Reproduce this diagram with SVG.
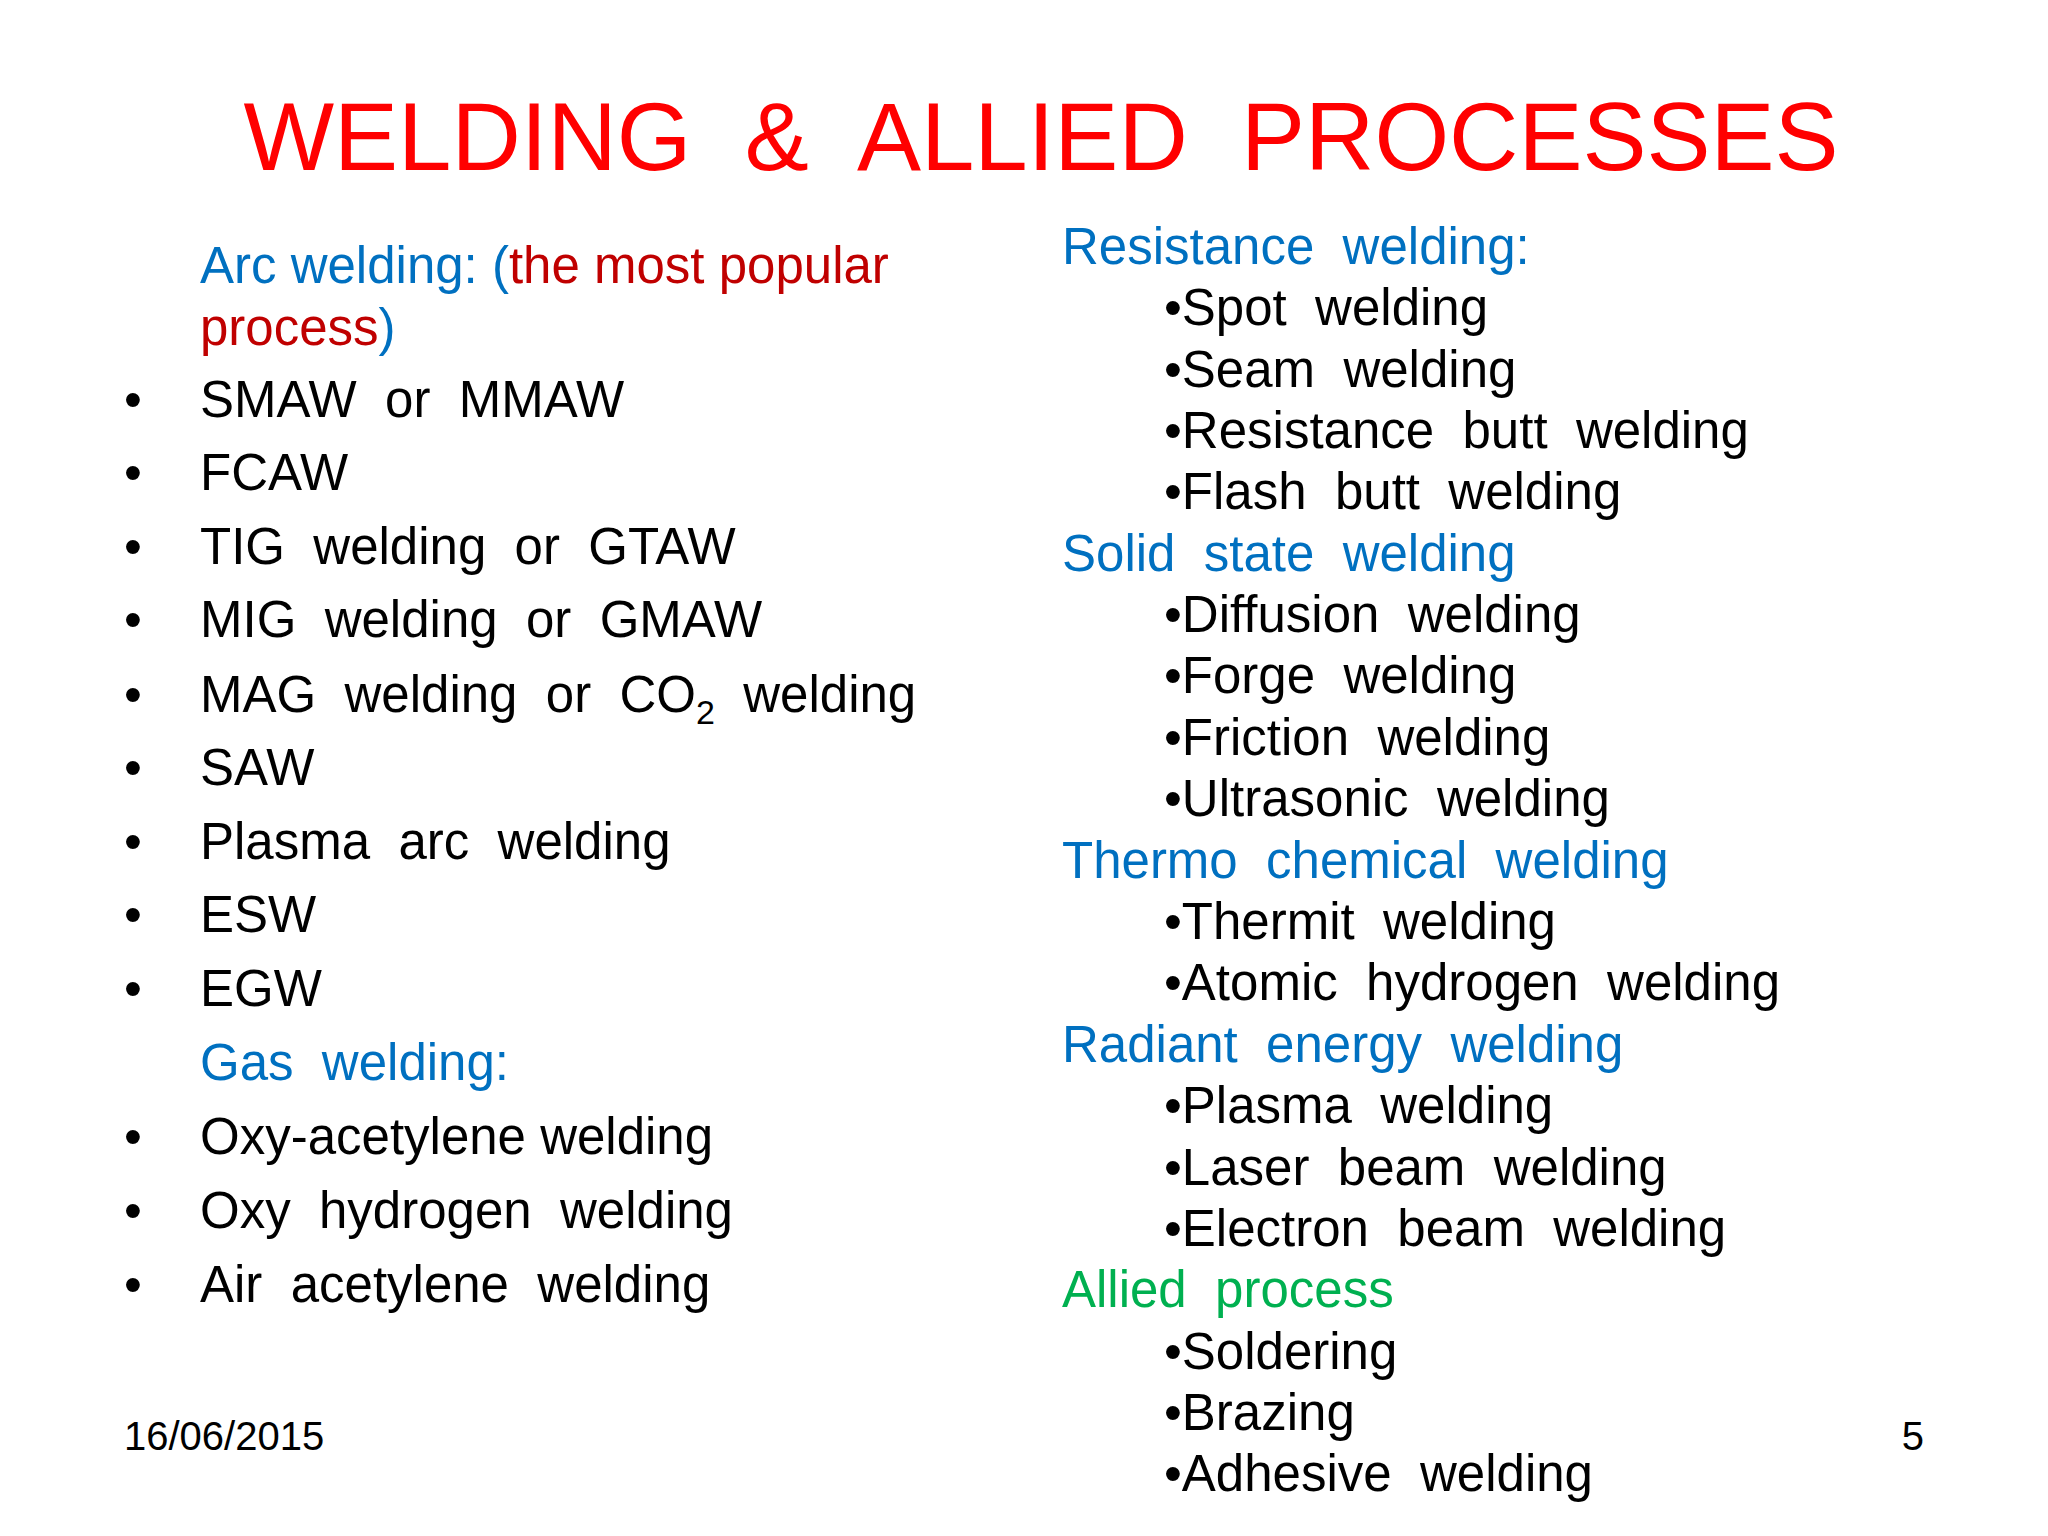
<svg xmlns="http://www.w3.org/2000/svg" width="2048" height="1536" viewBox="0 0 2048 1536">
<style>
text{font-family:"Liberation Sans",Arial,sans-serif;white-space:pre;fill:#000}
.t{font-size:51px}
.b{fill:#0070C0}
.r{fill:#C00000}
.g{fill:#00B050}
.s{font-size:40px}
</style>
<rect width="2048" height="1536" fill="#fff"/>
<text x="1041" y="170" font-size="96" text-anchor="middle" style="fill:#FF0000">WELDING  &amp;  ALLIED  PROCESSES</text>
<g class="t">
<text class="t" x="200" y="283"><tspan class="b">Arc welding: (</tspan><tspan class="r">the most popular</tspan></text>
<text class="t r" x="200" y="345">process<tspan class="b">)</tspan></text>
<text class="t" x="124" y="417">•</text><text class="t" x="200" y="417">SMAW  or  MMAW</text>
<text class="t" x="124" y="490">•</text><text class="t" x="200" y="490">FCAW</text>
<text class="t" x="124" y="564">•</text><text class="t" x="200" y="564">TIG  welding  or  GTAW</text>
<text class="t" x="124" y="637">•</text><text class="t" x="200" y="637">MIG  welding  or  GMAW</text>
<text class="t" x="124" y="712">•</text><text class="t" x="200" y="712">MAG  welding  or  CO<tspan font-size="34" dy="12">2</tspan><tspan dy="-12">  welding</tspan></text>
<text class="t" x="124" y="785">•</text><text class="t" x="200" y="785">SAW</text>
<text class="t" x="124" y="859">•</text><text class="t" x="200" y="859">Plasma  arc  welding</text>
<text class="t" x="124" y="932">•</text><text class="t" x="200" y="932">ESW</text>
<text class="t" x="124" y="1006">•</text><text class="t" x="200" y="1006">EGW</text>
<text class="t b" x="200" y="1080">Gas  welding:</text>
<text class="t" x="124" y="1154">•</text><text class="t" x="200" y="1154">Oxy-acetylene welding</text>
<text class="t" x="124" y="1228">•</text><text class="t" x="200" y="1228">Oxy  hydrogen  welding</text>
<text class="t" x="124" y="1302">•</text><text class="t" x="200" y="1302">Air  acetylene  welding</text>
</g>
<g>
<text class="t b" x="1062" y="264">Resistance  welding:</text>
<text class="t" x="1164" y="325">•Spot  welding</text>
<text class="t" x="1164" y="387">•Seam  welding</text>
<text class="t" x="1164" y="448">•Resistance  butt  welding</text>
<text class="t" x="1164" y="509">•Flash  butt  welding</text>
<text class="t b" x="1062" y="571">Solid  state  welding</text>
<text class="t" x="1164" y="632">•Diffusion  welding</text>
<text class="t" x="1164" y="693">•Forge  welding</text>
<text class="t" x="1164" y="755">•Friction  welding</text>
<text class="t" x="1164" y="816">•Ultrasonic  welding</text>
<text class="t b" x="1062" y="878">Thermo  chemical  welding</text>
<text class="t" x="1164" y="939">•Thermit  welding</text>
<text class="t" x="1164" y="1000">•Atomic  hydrogen  welding</text>
<text class="t b" x="1062" y="1062">Radiant  energy  welding</text>
<text class="t" x="1164" y="1123">•Plasma  welding</text>
<text class="t" x="1164" y="1185">•Laser  beam  welding</text>
<text class="t" x="1164" y="1246">•Electron  beam  welding</text>
<text class="t g" x="1062" y="1307">Allied  process</text>
<text class="t" x="1164" y="1369">•Soldering</text>
<text class="t" x="1164" y="1430">•Brazing</text>
<text class="t" x="1164" y="1491">•Adhesive  welding</text>
</g>
<text class="s" x="124" y="1450">16/06/2015</text>
<text class="s" x="1924" y="1450" text-anchor="end">5</text>
</svg>
